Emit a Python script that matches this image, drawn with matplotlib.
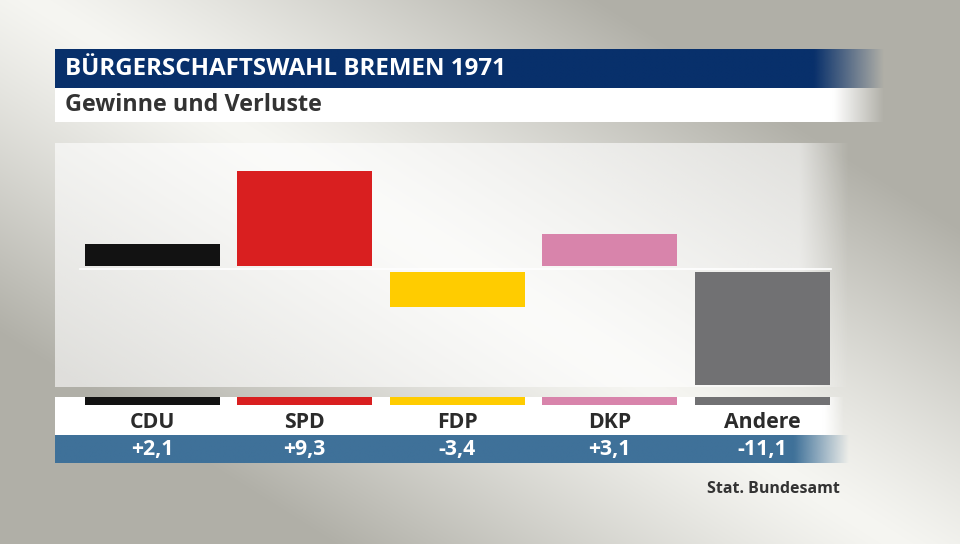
import numpy as np
import matplotlib
matplotlib.use("Agg")
from matplotlib import pyplot as plt
from matplotlib.colors import to_rgb

# data
parties = ["CDU", "SPD", "FDP", "DKP", "Andere"]
changes = [2.1, 9.3, -3.4, 3.1, -11.1]
change_labels = ["+2,1", "+9,3", "-3,4", "+3,1", "-11,1"]
colors = ["#121212", "#d91f20", "#ffcc00", "#d884ab", "#717173"]
title = "BÜRGERSCHAFTSWAHL BREMEN 1971"
subtitle = "Gewinne und Verluste"
source = "Stat. Bundesamt"

plt.rcParams["font.family"] = ["Open Sans", "DejaVu Sans"]
W, H = 960, 544
fig = plt.figure(figsize=(W / 100, H / 100), dpi=100)

# background gradient (light diagonal band)
yy, xx = np.mgrid[0:H, 0:W]
d = np.abs((xx / W) * 0.56 - (yy / H) * 0.56 * 0.9 - 0.02)
t = np.clip(d / 0.33, 0, 1) ** 1.2
light = np.array(to_rgb("#f6f6f2"))
dark = np.array(to_rgb("#b0afa7"))
bg = light * (1 - t[..., None]) + dark * t[..., None]
bga = fig.add_axes([0, 0, 1, 1])
bga.imshow(bg, extent=[0, W, H, 0], aspect="auto")
bga.set_xlim(0, W)
bga.set_ylim(H, 0)
bga.axis("off")


def band(x0, x1, y0, y1, color, fade0, fade1, alpha=1.0):
    # horizontal band with a fade-out on the right
    n = 400
    xs = np.linspace(x0, x1, n)
    a = np.clip((fade1 - xs) / (fade1 - fade0), 0, 1) * alpha
    img = np.zeros((1, n, 4))
    img[..., :3] = to_rgb(color)
    img[0, :, 3] = a
    bga.imshow(img, extent=[x0, x1, y1, y0], aspect="auto", interpolation="bilinear")


band(55, 885, 49, 88, "#08306b", 815, 885)
band(55, 885, 88, 122, "#ffffff", 835, 885)
band(55, 850, 143, 387, "#ffffff", 800, 850, alpha=0.6)
band(55, 845, 397, 435, "#ffffff", 825, 845)
band(55, 850, 435, 463, "#3f7199", 795, 850)
bga.set_xlim(0, W)
bga.set_ylim(H, 0)

fig.text(65 / W, 1 - 69 / H, title, color="white", fontsize=17.4, fontweight="bold", va="center")
fig.text(65 / W, 1 - 105 / H, subtitle, color="#333333", fontsize=16.8, fontweight="bold", va="center")
fig.text(840 / W, 1 - 489 / H, source, color="#333333", fontsize=11.5, fontweight="bold", va="center", ha="right")

# bar axes
x = np.arange(len(parties))
left, right = 76, 838.5
ax = fig.add_axes([left / W, 1 - 387 / H, (right - left) / W, (387 - 143) / H])
ax.set_xlim(-0.5, len(parties) - 0.5)
ax.set_ylim(-(387 - 269) / 10.15, (269 - 143) / 10.15)
ax.axis("off")
gap = 0.33
vals = np.array(changes)
ax.bar(x, vals, bottom=np.sign(vals) * gap, width=0.885, color=colors)
ax.axhline(0, xmin=0.005, xmax=0.99, color="white", lw=1.2)

# label strip axes
lab = fig.add_axes([left / W, 1 - 463 / H, (right - left) / W, (463 - 397) / H])
lab.set_xlim(-0.5, len(parties) - 0.5)
lab.set_ylim(463, 397)
lab.axis("off")
lab.bar(x, 8, bottom=397, width=0.885, color=colors)
for i in x:
    lab.text(i, 422, parties[i], ha="center", va="center", fontsize=15.3,
             fontweight="bold", color="#2b2b2b")
    lab.text(i, 450, change_labels[i], ha="center", va="center", fontsize=15.3,
             fontweight="bold", color="white")

fig.savefig("out.png", dpi=100)
